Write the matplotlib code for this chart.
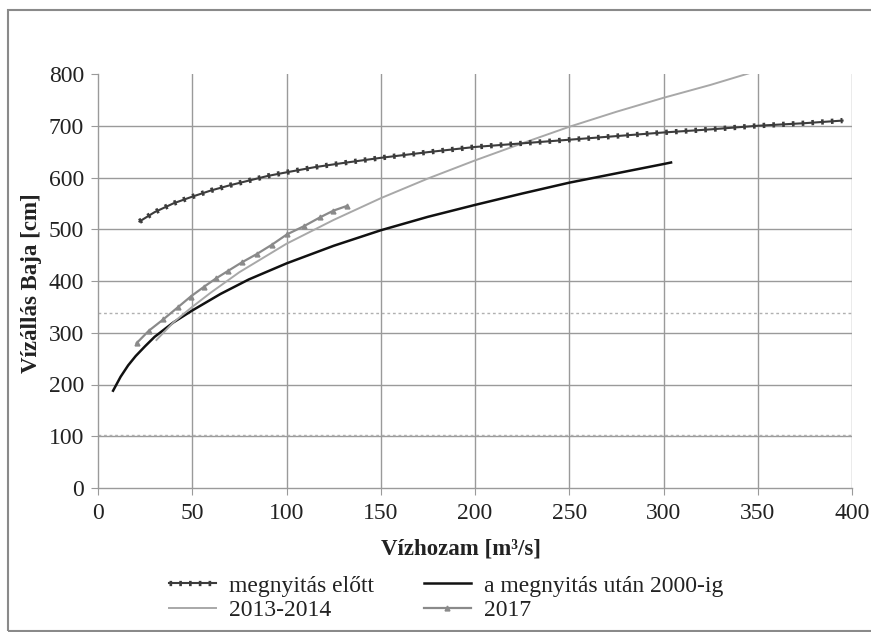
import matplotlib
matplotlib.use("Agg")
import matplotlib.pyplot as plt
from matplotlib.patches import Rectangle
from matplotlib.legend_handler import HandlerTuple

plt.rcParams['font.family'] = ['Liberation Serif', 'DejaVu Serif']

# ---- data ----
q_before = [22, 30, 40, 50, 60, 70, 80, 90, 100, 115, 130, 150, 175, 200, 225, 250, 275, 300, 325, 350, 375, 395]
h_before = [515, 533, 550, 563, 575, 585, 594, 603, 610, 620, 628, 638, 649, 659, 666, 673, 680, 687, 693, 700, 705, 710]

q_after = [8, 12, 16, 20, 25, 30, 40, 50, 65, 80, 100, 125, 150, 175, 200, 225, 250, 275, 300, 304]
h_after = [188, 215, 237, 255, 274, 292, 320, 343, 375, 403, 434, 468, 498, 524, 547, 569, 590, 608, 626, 629]

q_1314 = [31, 40, 50, 60, 75, 100, 125, 150, 175, 200, 225, 250, 275, 300, 325, 345]
h_1314 = [286, 320, 350, 378, 417, 472, 518, 560, 598, 633, 666, 698, 727, 754, 779, 801]

q_2017 = [20.5, 27, 34.7, 42.3, 49.2, 56.3, 62.6, 69.2, 76.3, 84.2, 92.2, 100.2, 109.3, 117.8, 124.9, 132]
h_2017 = [280, 304, 326, 349, 370, 389, 405, 420, 436, 452, 470, 490, 506, 523, 536, 545]

ref_levels = [103, 338]

x_ticks = [0, 50, 100, 150, 200, 250, 300, 350, 400]
y_ticks = [0, 100, 200, 300, 400, 500, 600, 700, 800]

labels = ['megnyitás előtt', 'a megnyitás után 2000-ig', '2013-2014', '2017']

# ---- figure ----
fig = plt.figure(figsize=(8.71, 6.32), dpi=100)
ax = fig.add_axes([98/871, 1-488/632, (852-98)/871, (488-74)/632])

grid_c = '#9a9a9a'
fs = 17
ax.set_xlim(0, 400)
ax.set_ylim(0, 800)
ax.set_xticks(x_ticks)
ax.set_yticks(y_ticks)
ax.grid(True, color=grid_c, lw=1.0)
ax.set_axisbelow(True)
ax.get_ygridlines()[-1].set_visible(False)
ax.get_ygridlines()[0].set_visible(False)
ax.get_xgridlines()[0].set_visible(False)
for s in ['top', 'right']:
    ax.spines[s].set_visible(False)
for s in ['left', 'bottom']:
    ax.spines[s].set_color(grid_c)
    ax.spines[s].set_linewidth(1.0)
ax.tick_params(axis='both', direction='out', length=5, color=grid_c,
               labelsize=fs, labelcolor='#222222')
ax.tick_params(axis='y', pad=5)
ax.tick_params(axis='x', pad=6)

for lv in ref_levels:
    ax.axhline(lv, color='#b0b0b0', lw=1.0, ls=(0, (2, 2)), zorder=1.5)

# "megnyitás előtt": thin line overlaid with dense tick marks
l_before_line, = ax.plot(q_before, h_before, color='#3c3c3c', lw=1.5, zorder=4)
l_before_ticks, = ax.plot(q_before, h_before, color='#3c3c3c', lw=3.8,
                          ls=(0, (0.5, 1.35)), dash_capstyle='butt', zorder=4)
l_after, = ax.plot(q_after, h_after, color='#111111', lw=1.8, zorder=3)
l_1314, = ax.plot(q_1314, h_1314, color='#a8a8a8', lw=1.4, zorder=3)
l_2017, = ax.plot(q_2017, h_2017, color='#8a8a8a', lw=1.6, marker='^',
                  markersize=3.5, zorder=3)

fig.text(461/871, 1-549/632, 'Vízhozam [m³/s]', ha='center', va='center',
         fontsize=16.5, fontweight='bold', color='#222222')
fig.text(31/871, 1-283/632, 'Vízállás Baja [cm]', ha='center', va='center',
         rotation=90, fontsize=16.5, fontweight='bold', color='#222222')

leg = fig.legend([(l_before_line, l_before_ticks), l_1314, l_after, l_2017],
                 [labels[0], labels[2], labels[1], labels[3]],
                 handler_map={tuple: HandlerTuple(ndivide=1, pad=0)},
                 ncol=2, loc='center', bbox_to_anchor=(446/871, 1-598/632),
                 frameon=False, fontsize=fs, handlelength=2.0,
                 columnspacing=2.1, handletextpad=0.55, labelspacing=0.12,
                 borderpad=0.2)
for t in leg.get_texts():
    t.set_color('#222222')

fig.patches.append(Rectangle((8/871, 1/632), 1.2, 621/632, transform=fig.transFigure,
                             fill=False, edgecolor='#8a8a8a', lw=1.5))

fig.savefig('out.png', dpi=100)
